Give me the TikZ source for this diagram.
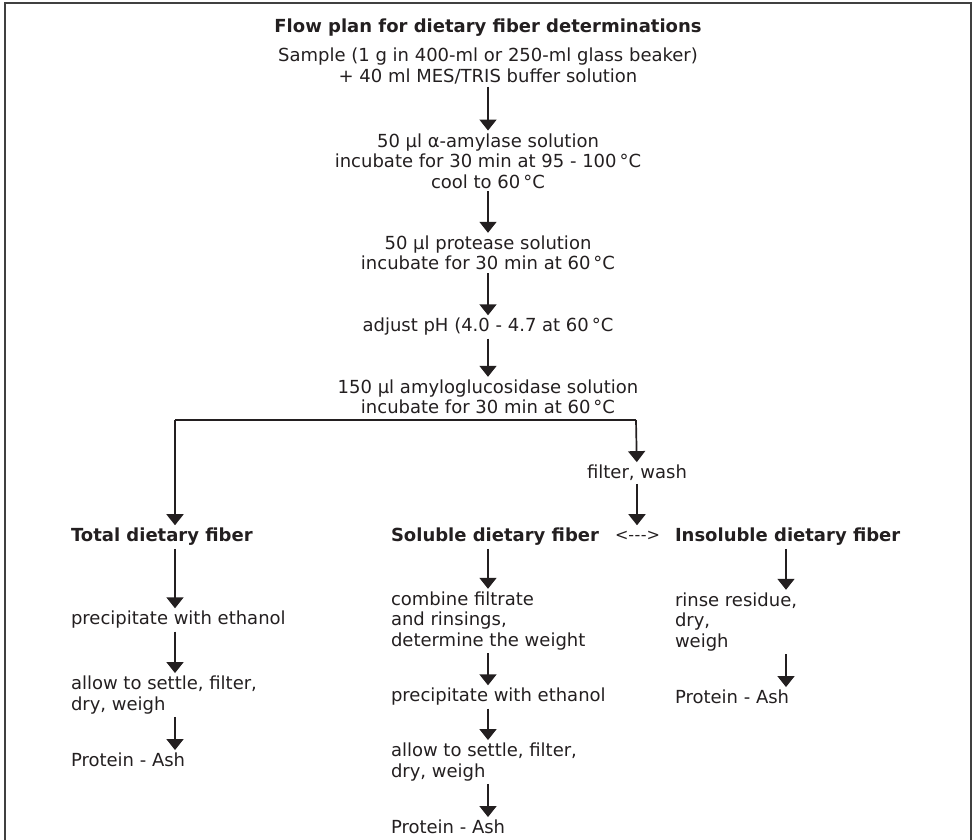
\documentclass[tikz,border=0pt]{standalone}
\usepackage{fontspec}
\setmainfont{DejaVu Sans}
\usetikzlibrary{arrows.meta}
\definecolor{ink}{HTML}{231F20}
\definecolor{frame}{HTML}{404040}
\begin{document}
\begin{tikzpicture}[x=1pt,y=-1pt,
  every node/.style={text=ink,font=\fontsize{18}{20.5}\selectfont,inner sep=0pt,outer sep=3pt},
  cbox/.style={align=center},
  lbox/.style={align=left,anchor=west},
  hbox/.style={align=left,anchor=west,font=\fontsize{18}{20.5}\selectfont\bfseries},
  arr/.style={draw=ink,line width=1.7pt,-{Triangle[width=17pt,length=11pt]}},
  plain/.style={draw=ink,line width=1.7pt}]
\useasboundingbox (0,0) rectangle (977,839);
\draw[frame,line width=2.4pt] (5,850) -- (5,3) -- (971,3) -- (971,850);
% main column
\node[cbox,font=\fontsize{18}{20.5}\selectfont\bfseries] (title) at (488,28) {Flow plan for dietary fiber determinations};
\node[cbox] (sample) at (488,66) {Sample (1 g in 400-ml or 250-ml glass beaker)\\+ 40 ml MES/TRIS buffer solution};
\node[cbox] (amyl) at (488,161) {50 µl α-amylase solution\\incubate for 30 min at 95 - 100\,°C\\cool to 60\,°C};
\node[cbox] (prot) at (488,253) {50 µl protease solution\\incubate for 30 min at 60\,°C};
\node[cbox] (ph) at (488,327) {adjust pH (4.0 - 4.7 at 60\,°C};
\node[cbox] (amg) at (488,397) {150 µl amyloglucosidase solution\\incubate for 30 min at 60\,°C};
\draw[arr] (sample) -- (amyl);
\draw[arr] (amyl) -- (prot);
\draw[arr] (prot) -- (ph);
\draw[arr] (ph) -- (amg);
% branching
\coordinate (bl) at (175,420);
\coordinate (br) at (636,420);
\node[cbox] (filt) at (637,473) {filter, wash};
\draw[plain] (bl) -- (br);
\draw[arr] (br) -- (filt);
% headings
\node[hbox] (total) at (68,537) {Total dietary fiber};
\node[hbox] (sol) at (388,537) {Soluble dietary fiber};
\node[lbox,font=\fontsize{16}{18}\selectfont] (lr) at (612,536) {<-\kern0.5pt-\kern0.5pt->};
\node[hbox] (insol) at (672,537) {Insoluble dietary fiber};
\draw[arr] (bl) -- (bl |- total.north);
\draw[arr] (filt) -- (filt.south |- sol.north);
% left column
\node[lbox] (t1) at (68,620) {precipitate with ethanol};
\node[lbox] (t2) at (68,695) {allow to settle, filter,\\dry, weigh};
\node[lbox] (t3) at (68,760) {Protein - Ash};
\coordinate (tx) at (175,0);
\draw[arr] (tx |- total.south) -- (tx |- t1.north);
\draw[arr] (tx |- t1.south) -- (tx |- t2.north);
\draw[arr] (tx |- t2.south) -- (tx |- t3.north);
% middle column
\node[lbox] (s1) at (388,621) {combine filtrate\\and rinsings,\\determine the weight};
\node[lbox] (s2) at (388,697) {precipitate with ethanol};
\node[lbox] (s3) at (388,762) {allow to settle, filter,\\dry, weigh};
\node[lbox] (s4) at (388,827) {Protein - Ash};
\coordinate (sx) at (488,0);
\draw[arr] (sx |- sol.south) -- (sx |- s1.north);
\draw[arr] (sx |- s1.south) -- (sx |- s2.north);
\draw[arr] (sx |- s2.south) -- (sx |- s3.north);
\draw[arr] (sx |- s3.south) -- (sx |- s4.north);
% right column
\node[lbox] (i1) at (672,622) {rinse residue,\\dry,\\weigh};
\node[lbox] (i2) at (672,697) {Protein - Ash};
\coordinate (ix) at (786,0);
\draw[arr] (ix |- insol.south) -- (ix |- i1.north);
\draw[arr] (ix |- i1.south) -- (ix |- i2.north);
\end{tikzpicture}
\end{document}
